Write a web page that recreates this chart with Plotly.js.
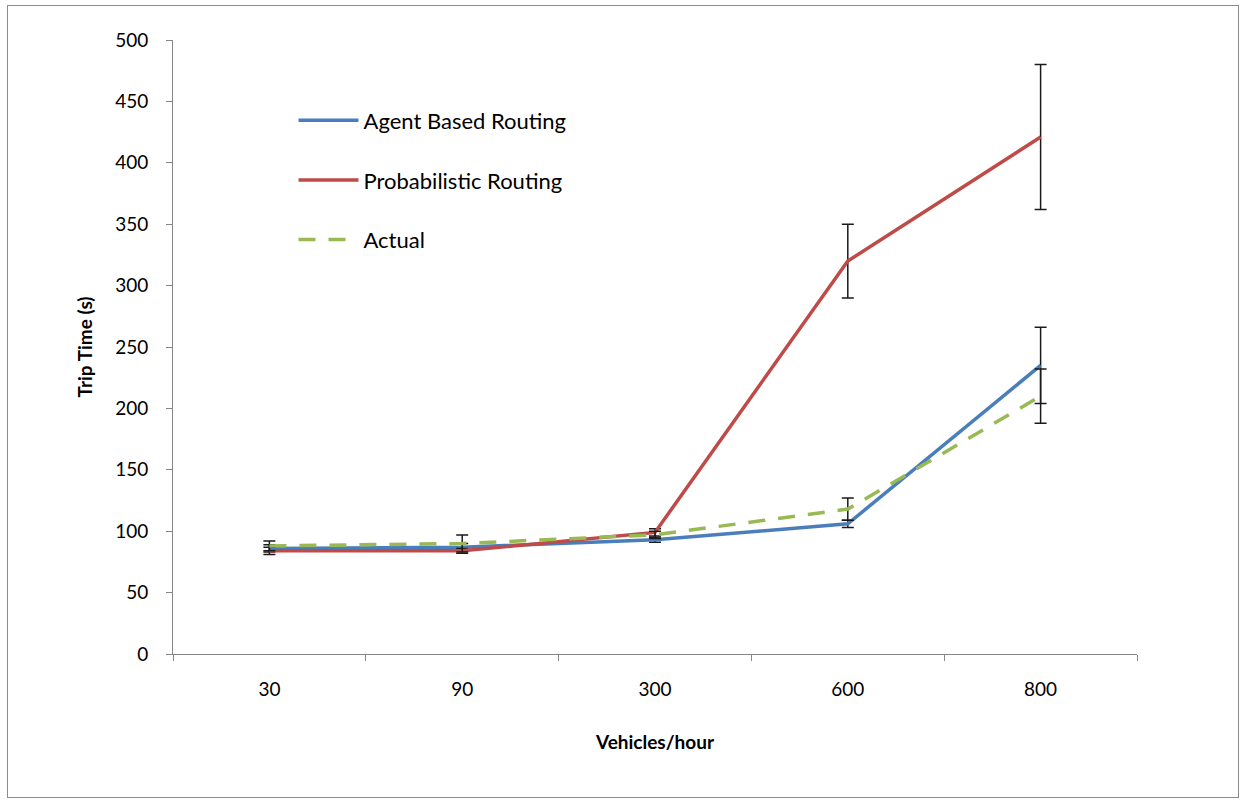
<!DOCTYPE html>
<html>
<head>
<meta charset="utf-8">
<script src="https://cdn.plot.ly/plotly-3.0.1.min.js"></script>
<style>
  html, body { margin: 0; padding: 0; background: #fff; }
  #frame { position: absolute; left: 7px; top: 5px; width: 1232px; height: 793px; border: 1px solid #8c8c8c; box-sizing: border-box; }
  #chart { position: absolute; left: 0; top: 0; width: 1247px; height: 805px; }
</style>
</head>
<body>
<div id="frame"></div>
<div id="chart"></div>
<script>
const categories = ["30", "90", "300", "600", "800"];
const agentValues = [86, 87, 93, 106, 235];
const agentErrors = [3, 3, 2, 3, 31];
const probValues = [84, 84, 99, 320, 421];
const probErrors = [3, 2, 3, 30, 59];
const actualValues = [88, 90, 97, 118, 210];
const actualErrors = [4, 7, 3, 9, 22];
const yTicks = [0, 50, 100, 150, 200, 250, 300, 350, 400, 450, 500];

const FONT = "Lato, 'Open Sans', sans-serif";
const errStyle = (arr) => ({type: "data", array: arr, visible: true, color: "#1a1a1a", thickness: 1.5, width: 6});

const traces = [
  {x: categories, y: agentValues, name: "Agent Based Routing", type: "scatter", mode: "lines",
   line: {color: "#4A7EBB", width: 3.5}, error_y: errStyle(agentErrors), legendgroup: "a"},
  {x: categories, y: probValues, name: "Probabilistic Routing", type: "scatter", mode: "lines",
   line: {color: "#BE4B48", width: 3.5}, error_y: errStyle(probErrors), legendgroup: "b"},
  {x: categories, y: actualValues, name: "Actual", type: "scatter", mode: "lines",
   line: {color: "#98B954", width: 3.5, dash: "17px,13px"}, error_y: errStyle(actualErrors), legendgroup: "c"}
];

const layout = {
  width: 1247, height: 805,
  paper_bgcolor: "rgba(0,0,0,0)", plot_bgcolor: "rgba(0,0,0,0)",
  margin: {l: 173, r: 110, t: 40, b: 151},
  font: {family: FONT, size: 19, color: "#000"},
  showlegend: true,
  legend: {x: 0.125, y: 0.903, xanchor: "left", yanchor: "top", bgcolor: "rgba(0,0,0,0)",
           font: {family: FONT, size: 22, color: "#000"}, tracegroupgap: 28, itemwidth: 60},
  xaxis: {type: "category", range: [-0.5, 4.5], tickson: "boundaries", ticks: "outside", ticklen: 6,
          tickcolor: "#868686", showline: true, linecolor: "#868686", linewidth: 1, showgrid: false,
          zeroline: false, ticklabelstandoff: 18, tickfont: {family: FONT, size: 19, color: "#000"},
          title: {text: "<b>Vehicles/hour</b>", font: {family: FONT, size: 19, color: "#000"}, standoff: 36}},
  yaxis: {range: [0, 500], tickvals: yTicks, ticktext: yTicks.map(String), ticks: "outside", ticklen: 6,
          tickcolor: "#868686", showline: true, linecolor: "#868686", linewidth: 1, showgrid: false,
          zeroline: false, ticklabelstandoff: 14, tickfont: {family: FONT, size: 19, color: "#000"},
          title: {text: "<b>Trip Time (s)</b>", font: {family: FONT, size: 19, color: "#000"}, standoff: 17}}
};

Plotly.newPlot("chart", traces, layout, {displayModeBar: false, staticPlot: true});
</script>
</body>
</html>
